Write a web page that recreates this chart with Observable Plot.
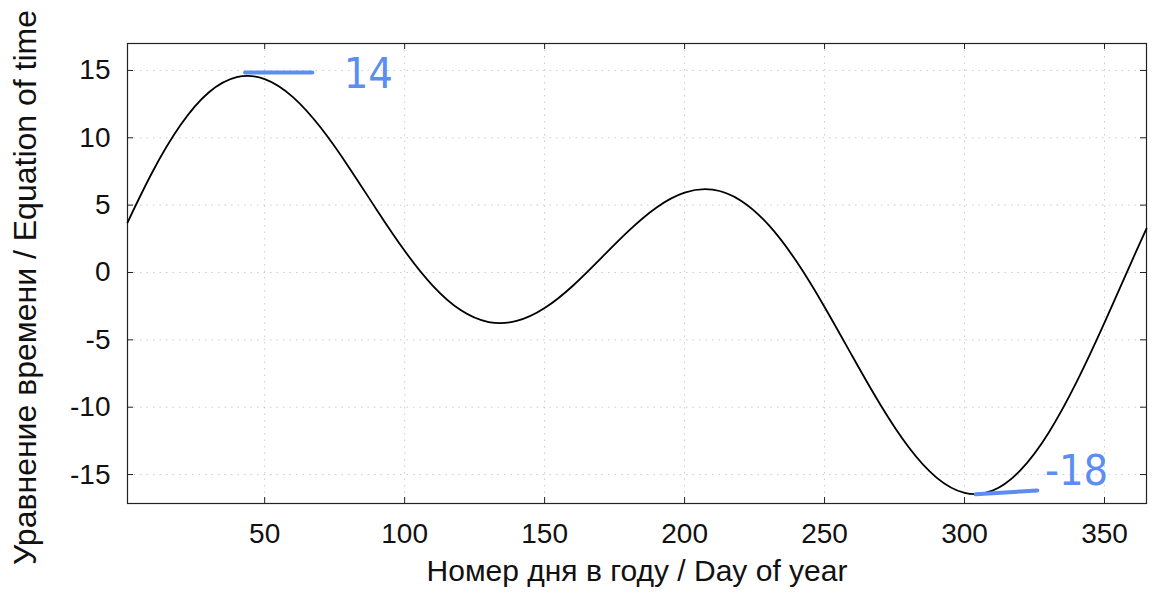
<!DOCTYPE html>
<html>
<head>
<meta charset="utf-8">
<script src="https://cdn.jsdelivr.net/npm/d3@7"></script>
<script src="https://cdn.jsdelivr.net/npm/@observablehq/plot@0.6"></script>
<style>
  html, body { margin: 0; padding: 0; background: #fff; }
  svg { display: block; }
</style>
</head>
<body>
<div id="chart"></div>
<script>
// Day of year and equation of time (minutes)
const days = [1,10,20,30,40,50,60,70,80,90,100,110,120,130,140,150,160,170,180,190,200,210,220,230,240,250,260,270,280,290,300,310,320,330,340,350,360,365];
const minutes = [3.71,7.50,10.96,13.36,14.50,14.36,13.04,10.76,7.84,4.66,1.61,-0.97,-2.79,-3.68,-3.60,-2.64,-1.00,1.03,3.09,4.83,5.93,6.15,5.35,3.53,0.81,-2.56,-6.24,-9.84,-12.96,-15.23,-16.36,-16.19,-14.67,-11.91,-8.14,-3.72,0.96,3.26];

// Tick values
const xTicks = [50,100,150,200,250,300,350];
const yTicks = [-15,-10,-5,0,5,10,15];

// Axis titles
const xTitle = "Номер дня в году / Day of year";
const yTitle = "Уравнение времени / Equation of time";

// Handwritten annotations
const noteText = ["14", "-18"];
const noteDay = [87, 340];
const noteValue = [14.75, -14.75];
const markDay1 = [43, 304];
const markDay2 = [67, 326];
const markValue1 = [14.85, -16.47];
const markValue2 = [14.85, -16.18];

const data = days.map((d, i) => ({day: d, eot: minutes[i]}));

const W = 1152, H = 608;
const mL = 127, mR = 6, mT = 43, mB = 105;
const innerW = W - mL - mR, innerH = H - mT - mB;
const tick = 6;
const blue = "#5b8ef0";

const chart = Plot.plot({
  width: W,
  height: H,
  marginLeft: mL,
  marginRight: mR,
  marginTop: mT,
  marginBottom: mB,
  style: {fontFamily: "'Liberation Sans', Arial, sans-serif", fontSize: "28px", color: "#111", background: "#fff"},
  x: {domain: [1, 365]},
  y: {domain: [-17.15, 17]},
  marks: [
    Plot.gridX(xTicks, {stroke: "#aaa", strokeOpacity: 0.6, strokeDasharray: "1.5,5"}),
    Plot.gridY(yTicks, {stroke: "#aaa", strokeOpacity: 0.6, strokeDasharray: "1.5,5"}),
    // inward ticks on all four sides
    Plot.tickX(xTicks, {x: d => d, insetTop: innerH - tick, stroke: "#222"}),
    Plot.tickX(xTicks, {x: d => d, insetBottom: innerH - tick, stroke: "#222"}),
    Plot.tickY(yTicks, {y: d => d, insetRight: innerW - tick, stroke: "#222"}),
    Plot.tickY(yTicks, {y: d => d, insetLeft: innerW - tick, stroke: "#222"}),
    Plot.axisX(xTicks, {tickSize: 0, tickPadding: 20, label: null, fontSize: 28, tickFormat: d => String(d)}),
    Plot.axisY(yTicks, {tickSize: 0, tickPadding: 17, label: null, fontSize: 28, tickFormat: d => String(d)}),
    Plot.frame({stroke: "#222", strokeWidth: 1.2}),
    Plot.line(data, {x: "day", y: "eot", curve: "natural", stroke: "#000", strokeWidth: 1.8}),
    Plot.text([xTitle], {frameAnchor: "bottom", dy: 77, fontSize: 30, fill: "#111"}),
    Plot.text([yTitle], {frameAnchor: "left", textAnchor: "middle", rotate: -90, dx: -102, dy: 14, fontSize: 32, fill: "#111"}),
    Plot.link(noteText, {x1: markDay1, y1: markValue1, x2: markDay2, y2: markValue2, stroke: blue, strokeWidth: 4, strokeLinecap: "round"}),
    Plot.text(noteText, {x: noteDay, y: noteValue, text: d => d, fill: blue, fontSize: 43, fontFamily: "'Liberation Sans Narrow', 'DejaVu Sans Condensed', sans-serif"})
  ]
});

document.getElementById("chart").appendChild(chart);
</script>
</body>
</html>
